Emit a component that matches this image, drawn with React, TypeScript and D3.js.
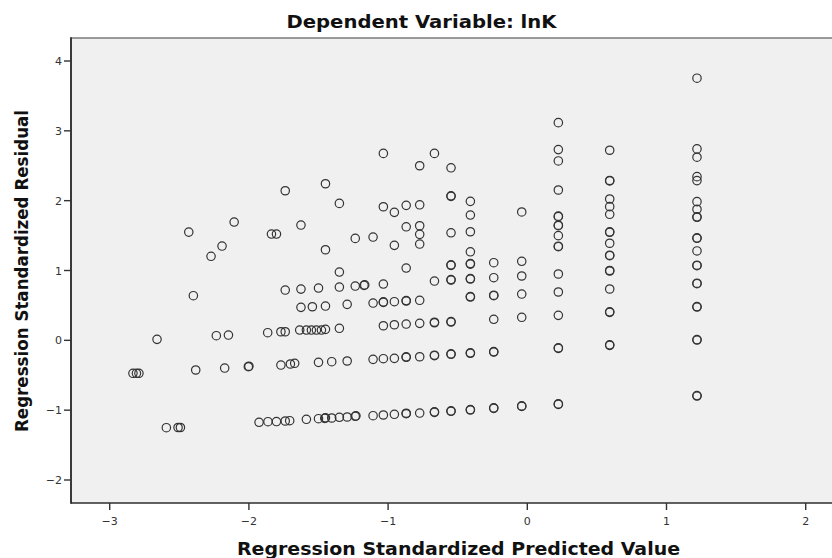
import React from "react";
import * as d3 from "d3";

const title = "Dependent Variable: lnK";
const xTitle = "Regression Standardized Predicted Value";
const yTitle = "Regression Standardized Residual";

const xTicks = [-3, -2, -1, 0, 1, 2];
const yTicks = [-2, -1, 0, 1, 2, 3, 4];

// predicted values where many cases share a column
const colPredicted = [-1.108, -1.034, -0.955, -0.87, -0.773, -0.667, -0.548, -0.409, -0.241, -0.04, 0.223, 0.592, 1.219];
// residuals of each column (repeated values = overlapping cases)
const colResiduals: number[][] = [
  [1.479, 0.534, -0.272, -1.079],
  [2.677, 1.913, 0.806, 0.544, 0.55, 0.209, -0.263, -1.069],
  [1.833, 1.36, 0.553, 0.223, -0.258, -1.059],
  [1.933, 1.626, 1.035, 0.563, 0.57, 0.233, -0.243, -0.236, -1.051, -1.044],
  [2.5, 1.941, 1.641, 1.518, 1.379, 0.573, 0.243, -0.235, -1.041],
  [2.677, 0.849, 0.252, 0.259, -0.22, -0.213, -1.031, -1.024],
  [2.471, 2.062, 2.069, 1.54, 1.074, 1.081, 0.863, 0.87, 0.262, 0.269, -0.2, -0.193, -1.016, -1.009],
  [1.99, 1.794, 1.555, 1.268, 1.092, 1.099, 0.878, 0.885, 0.62, 0.627, -0.186, -0.179, -0.998, -0.991],
  [1.112, 0.897, 0.639, 0.646, 0.301, -0.168, -0.161, -0.974, -0.967],
  [1.838, 1.132, 0.921, 0.663, 0.33, -0.946, -0.939],
  [3.117, 2.731, 2.569, 2.153, 1.771, 1.778, 1.642, 1.649, 1.499, 1.341, 1.348, 0.95, 0.692, 0.358, -0.115, -0.108, -0.917, -0.91],
  [2.722, 2.282, 2.289, 2.024, 1.914, 1.805, 1.547, 1.554, 1.39, 1.212, 1.219, 0.993, 1.0, 0.735, 0.401, 0.408, -0.072, -0.065],
  [3.754, 2.741, 2.622, 2.344, 2.287, 1.986, 1.877, 1.762, 1.769, 1.461, 1.468, 1.28, 1.069, 1.076, 0.811, 0.818, 0.477, 0.484, 0.004, 0.011, -0.798, -0.791],
];

// scattered cases on the left: [predicted, residual]
const upperCases: [number, number][] = [
  [-1.45, 2.242], [-1.739, 2.142], [-1.35, 1.961], [-2.106, 1.694], [-1.626, 1.651],
  [-2.432, 1.55], [-1.802, 1.522], [-1.838, 1.522], [-1.236, 1.46], [-2.193, 1.35],
  [-1.45, 1.297], [-2.272, 1.203], [-1.35, 0.978],
];
const middleCases: [number, number][] = [
  [-1.173, 0.787], [-1.168, 0.794], [-1.236, 0.777], [-1.35, 0.763], [-1.5, 0.749],
  [-1.626, 0.734], [-1.739, 0.72], [-2.399, 0.639], [-1.294, 0.515], [-1.45, 0.491],
  [-1.544, 0.481], [-1.626, 0.472], [-1.35, 0.172], [-1.479, 0.147], [-1.515, 0.147],
  [-1.551, 0.147], [-1.587, 0.147], [-1.635, 0.147], [-1.45, 0.157], [-1.739, 0.123],
  [-1.77, 0.123], [-1.865, 0.109], [-2.147, 0.076], [-2.234, 0.066], [-2.66, 0.014],
];
const lowerCases: [number, number][] = [
  [-1.294, -0.296], [-1.405, -0.306], [-1.5, -0.315], [-1.671, -0.329], [-1.702, -0.339],
  [-1.77, -0.354], [-2.004, -0.378], [-2.0, -0.371], [-2.174, -0.397], [-2.382, -0.425],
  [-2.833, -0.472], [-2.808, -0.472], [-2.79, -0.472],
];
const bottomCases: [number, number][] = [
  [-1.236, -1.088], [-1.231, -1.081], [-1.294, -1.098], [-1.35, -1.102], [-1.405, -1.112],
  [-1.455, -1.117], [-1.45, -1.11], [-1.5, -1.122], [-1.587, -1.131], [-1.707, -1.151],
  [-1.739, -1.155], [-1.802, -1.163], [-1.863, -1.165], [-1.927, -1.174],
  [-2.509, -1.248], [-2.492, -1.248], [-2.593, -1.251],
];

const W = 832;
const H = 558;
const plotLeft = 71;
const plotTop = 38;
const plotBottom = 503;

const x = d3.scaleLinear().domain([-3, 2]).range([109.7, 805.7]);
const y = d3.scaleLinear().domain([-2, 4]).range([480, 61]);

const fmt = (v: number) => (v < 0 ? "\u2212" + Math.abs(v) : String(v));

export default function App() {
  const pts: [number, number][] = [];
  colPredicted.forEach((p, i) => colResiduals[i].forEach((r) => pts.push([p, r])));
  [...upperCases, ...middleCases, ...lowerCases, ...bottomCases].forEach((d) => pts.push(d));

  const font = "'DejaVu Sans', Verdana, sans-serif";
  return (
    <div style={{ position: "absolute", left: 0, top: 0 }}>
      <svg width={W} height={H} style={{ display: "block" }}>
        <rect x={0} y={0} width={W} height={H} fill="#ffffff" />
        <rect x={plotLeft} y={plotTop} width={W - plotLeft + 5} height={plotBottom - plotTop} fill="#f0f0f0" />
        <line x1={plotLeft} x2={W} y1={plotTop} y2={plotTop} stroke="#7a7a7a" strokeWidth={1.6} />
        <line x1={plotLeft} x2={plotLeft} y1={plotTop - 0.8} y2={plotBottom + 0.8} stroke="#3a3a3a" strokeWidth={2} />
        <line x1={plotLeft} x2={W} y1={plotBottom} y2={plotBottom} stroke="#2e2e2e" strokeWidth={1.5} />

        {yTicks.map((t) => (
          <g key={"y" + t}>
            <line x1={plotLeft - 7} x2={plotLeft} y1={y(t)} y2={y(t)} stroke="#333" strokeWidth={1.4} />
            <text x={plotLeft - 9} y={y(t) + 4} textAnchor="end" fontFamily={font} fontSize={11} fill="#333">
              {fmt(t)}
            </text>
          </g>
        ))}
        {xTicks.map((t) => (
          <g key={"x" + t}>
            <line x1={x(t)} x2={x(t)} y1={plotBottom} y2={plotBottom + 7} stroke="#333" strokeWidth={1.4} />
            <text x={x(t)} y={525} textAnchor="middle" fontFamily={font} fontSize={11} fill="#333">
              {fmt(t)}
            </text>
          </g>
        ))}

        {pts.map((d, i) => (
          <circle key={i} cx={x(d[0])} cy={y(d[1])} r={4.2} fill="none" stroke="#333333" strokeWidth={1.2} />
        ))}

        <text x={421.5} y={28} textAnchor="middle" fontFamily={font} fontWeight="bold" fontSize={18} fill="#111"
          textLength={270} lengthAdjust="spacingAndGlyphs">
          {title}
        </text>
        <text x={458.5} y={555} textAnchor="middle" fontFamily={font} fontWeight="bold" fontSize={18} fill="#111"
          textLength={443} lengthAdjust="spacingAndGlyphs">
          {xTitle}
        </text>
        <text transform="translate(28,271) rotate(-90)" textAnchor="middle" fontFamily={font} fontWeight="bold"
          fontSize={17} fill="#111" textLength={322} lengthAdjust="spacingAndGlyphs">
          {yTitle}
        </text>
      </svg>
    </div>
  );
}
